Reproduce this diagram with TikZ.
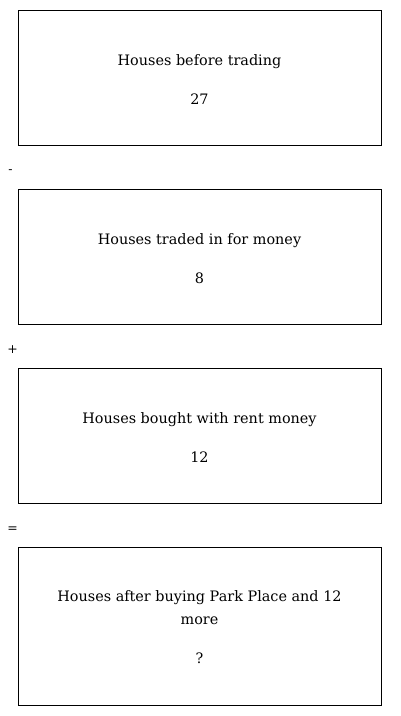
\documentclass[tikz,border=0pt]{standalone}
\usepackage{fontspec}
\setmainfont{DejaVu Serif}
\begin{document}
\begin{tikzpicture}[x=1pt,y=-1pt,
  card/.style={draw=black,line width=0.9pt,minimum width=363pt,inner sep=0pt,anchor=north west,rectangle},
  lbl/.style={font=\fontsize{14.4}{17}\selectfont,inner sep=0pt,anchor=base,text=black},
  opsym/.style={font=\fontsize{12.5}{14}\selectfont,inner sep=0pt,anchor=center}]
\useasboundingbox (0,0) rectangle (400,716);
\node[card,minimum height=135pt] (b1) at (18,10) {};
\node[card,minimum height=135pt] (b2) at (18,189) {};
\node[card,minimum height=135pt] (b3) at (18,368) {};
\node[card,minimum height=158pt] (b4) at (18,547) {};
\node[lbl] (t1) at (199.5,65) {Houses before trading};
\node[lbl] (n1) at (199.5,104) {27};
\node[lbl] (t2) at (199.5,244) {Houses traded in for money};
\node[lbl] (n2) at (199.5,283) {8};
\node[lbl] (t3) at (199.5,423) {Houses bought with rent money};
\node[lbl] (n3) at (199.5,462) {12};
\node[lbl] (t4a) at (199.5,601) {Houses after buying Park Place and 12};
\node[lbl] (t4b) at (199.5,624) {more};
\node[lbl] (n4) at (199.5,663) {?};
\node[opsym] (o1) at (10.5,172) {-};
\node[opsym] (o2) at (12.5,350) {+};
\node[opsym] (o3) at (12.5,530) {=};
\end{tikzpicture}
\end{document}
